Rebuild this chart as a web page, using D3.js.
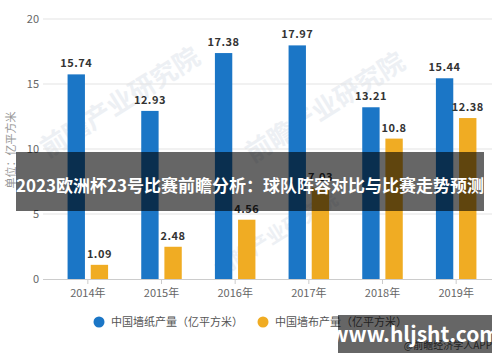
<!DOCTYPE html>
<html>
<head>
<meta charset="utf-8">
<script src="https://cdn.jsdelivr.net/npm/d3@7"></script>
<style>
  html, body { margin: 0; padding: 0; background: #fff; }
  svg { display: block; font-family: "Noto Sans CJK SC", "Noto Sans", sans-serif; }
</style>
</head>
<body>
<div id="chart"></div>
<script>
// data
const years = ['2014年', '2015年', '2016年', '2017年', '2018年', '2019年'];
const wallpaper = [15.74, 12.93, 17.38, 17.97, 13.21, 15.44];   // 中国墙纸产量
const wallcloth = [1.09, 2.48, 4.56, 7.03, 10.8, 12.38];        // 中国墙布产量
const seriesNames = ['中国墙纸产量（亿平方米）', '中国墙布产量（亿平方米）'];
const seriesColors = ['#1b76c6', '#f0ac23'];
const yTicks = [0, 5, 10, 15, 20];

const W = 500, H = 362;
const svg = d3.select('#chart').append('svg')
  .attr('width', W)
  .attr('height', H);

const y = d3.scaleLinear().domain([0, 20]).range([279, 19]);
const x = d3.scaleBand().domain(years).range([51, 493])
  .paddingInner(0.45).paddingOuter(0.225);
const x1 = d3.scaleBand().domain([0, 1]).range([0, x.bandwidth()]).paddingInner(0.25);

// faint watermarks, behind everything
const wm = svg.append('g').attr('fill', '#edf0f4').attr('font-weight', 700);
[[125, 110, 26], [330, 115, 26], [280, 240, 20]].forEach(([cx, cy, fs]) => {
  wm.append('text')
    .attr('transform', `translate(${cx},${cy}) rotate(-32)`)
    .attr('text-anchor', 'middle')
    .attr('font-size', fs)
    .text('前瞻产业研究院');
});

// gridlines
svg.append('g')
  .selectAll('line')
  .data(yTicks.filter(d => d > 0))
  .join('line')
  .attr('x1', 43).attr('x2', 492)
  .attr('y1', d => y(d)).attr('y2', d => y(d))
  .attr('stroke', '#e3e3e3')
  .attr('stroke-width', 1);

// y axis labels
svg.append('g')
  .selectAll('text')
  .data(yTicks)
  .join('text')
  .attr('x', 39)
  .attr('y', d => y(d) + 4)
  .attr('text-anchor', 'end')
  .attr('font-size', 11)
  .attr('fill', '#666')
  .text(d => d);

// y axis title
svg.append('text')
  .attr('transform', 'translate(15,150) rotate(-90)')
  .attr('text-anchor', 'middle')
  .attr('font-size', 11)
  .attr('fill', '#999')
  .text('单位：亿平方米');

// x axis
const xAxis = svg.append('g').attr('transform', `translate(0,${y(0)})`)
  .call(d3.axisBottom(x).tickSize(5).tickSizeOuter(0));
xAxis.select('.domain').attr('stroke', '#ccc').attr('d', `M43,0.5H492`);
xAxis.selectAll('.tick line').attr('stroke', '#ccc');
xAxis.selectAll('.tick text')
  .attr('font-size', 11)
  .attr('fill', '#666')
  .attr('dy', '0.9em')
  .attr('font-family', '"Noto Sans CJK SC", sans-serif');

// bars
const seriesData = [wallpaper, wallcloth];
seriesData.forEach((vals, si) => {
  const g = svg.append('g');
  g.selectAll('rect')
    .data(vals)
    .join('rect')
    .attr('x', (d, i) => x(years[i]) + x1(si))
    .attr('width', x1.bandwidth())
    .attr('y', d => y(d))
    .attr('height', d => y(0) - y(d))
    .attr('fill', seriesColors[si]);
  g.selectAll('text')
    .data(vals)
    .join('text')
    .attr('x', (d, i) => x(years[i]) + x1(si) + x1.bandwidth() / 2)
    .attr('y', d => y(d) - 7)
    .attr('text-anchor', 'middle')
    .attr('font-size', 11)
    .attr('font-weight', 700)
    .attr('letter-spacing', 0.5)
    .attr('fill', '#333')
    .text(d => d);
});

// legend
const legendX = [99, 263];
seriesNames.forEach((name, i) => {
  svg.append('circle')
    .attr('cx', legendX[i]).attr('cy', 322).attr('r', 5.5)
    .attr('fill', seriesColors[i]);
  svg.append('text')
    .attr('x', legendX[i] + 12).attr('y', 326)
    .attr('font-size', 11)
    .attr('fill', '#555')
    .text(name);
});

// source credit (sits under the site stamp)
svg.append('text')
  .attr('x', 492).attr('y', 349)
  .attr('text-anchor', 'end')
  .attr('font-size', 10)
  .attr('fill', '#555')
  .text('@前瞻经济学人APP');

// title overlay band
svg.append('rect')
  .attr('x', 16).attr('y', 152).attr('width', 468).attr('height', 59)
  .attr('fill', 'rgba(0,0,0,0.6)');
svg.append('text')
  .attr('x', 250).attr('y', 192)
  .attr('text-anchor', 'middle')
  .attr('font-size', 17)
  .attr('font-weight', 700)
  .attr('fill', '#fff')
  .text('2023欧洲杯23号比赛前瞻分析：球队阵容对比与比赛走势预测');

// site stamp
svg.append('rect')
  .attr('x', 338).attr('y', 315).attr('width', 154).attr('height', 38)
  .attr('fill', 'rgba(0,0,0,0.6)');
svg.append('text')
  .attr('x', 415).attr('y', 342)
  .attr('text-anchor', 'middle')
  .attr('font-size', 21)
  .attr('font-weight', 700)
  .attr('fill', '#fff')
  .text('www.hljsht.com');
</script>
</body>
</html>
